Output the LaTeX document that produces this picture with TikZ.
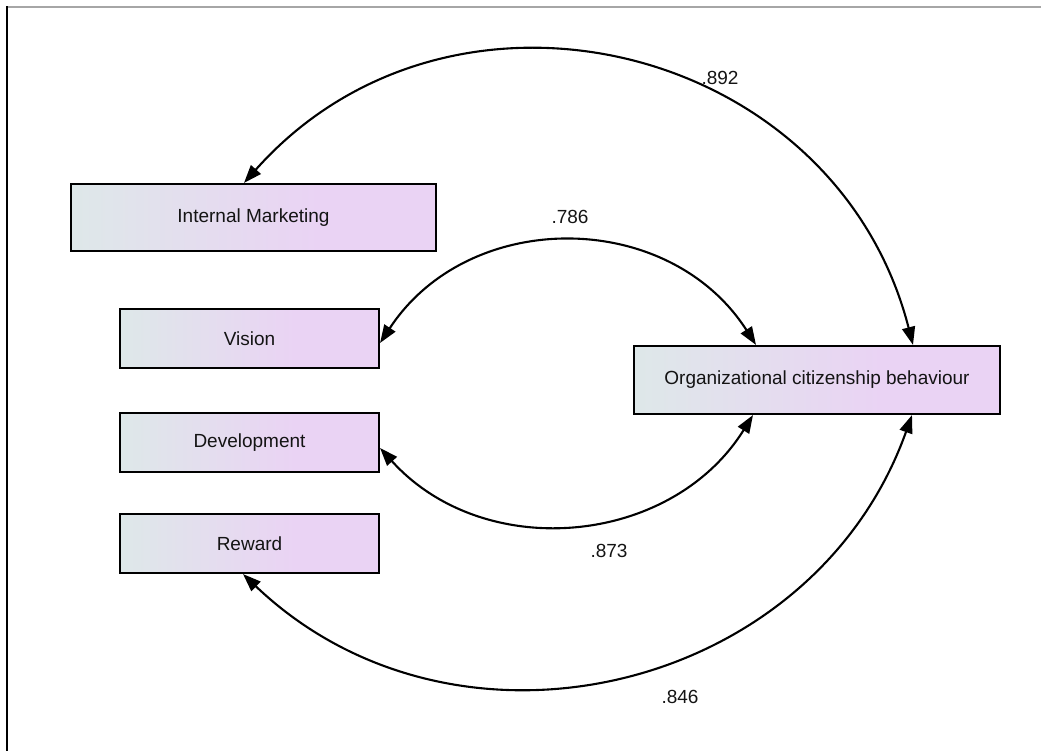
\documentclass[tikz,border=0pt]{standalone}
\usepackage{fontspec}
\setmainfont{Liberation Sans}
\usetikzlibrary{arrows.meta,calc}
\definecolor{boxleft}{RGB}{222,232,233}
\definecolor{boxright}{RGB}{234,211,244}
\definecolor{txt}{RGB}{20,20,20}
\pgfdeclarehorizontalshading{boxshade}{100bp}{color(0bp)=(boxleft); color(25bp)=(boxleft); color(59bp)=(boxright); color(100bp)=(boxright)}
\tikzset{
  var/.style={draw=black, line width=2.1pt, shading=boxshade,
    inner sep=0pt, font=\fontsize{19}{23}\selectfont, text=txt},
  cov/.style={line width=2.1pt, {Triangle[length=18pt,width=13pt]}-{Triangle[length=18pt,width=13pt]}},
  lbl/.style={font=\fontsize{19}{23}\selectfont, text=txt, inner sep=0pt}
}
\begin{document}
\begin{tikzpicture}[x=1pt,y=1pt]
\useasboundingbox (0,0) rectangle (1041,751);
\draw[gray!70, line width=2pt] (7,743.5) -- (1041,743.5);
\draw[black, line width=1.8pt] (7,744.5) -- (7,0);

\node[var, minimum width=365pt, minimum height=67pt] (im) at (253.5,533.5) {Internal Marketing};
\node[var, minimum width=259pt, minimum height=59pt] (vis) at (249.5,412.5) {Vision};
\node[var, minimum width=259pt, minimum height=59pt] (dev) at (249.5,308.5) {Development};
\node[var, minimum width=259pt, minimum height=59pt] (rew) at (249.5,207.5) {Reward};
\node[var, minimum width=366pt, minimum height=68pt] (ocb) at (817,371) {Organizational citizenship behaviour};

\coordinate (imt) at ([xshift=-9.5pt]im.north);
\coordinate (vist) at ([yshift=-4.5pt]vis.east);
\coordinate (devt) at ([yshift=-5.5pt]dev.east);
\coordinate (rewt) at ([xshift=-6.5pt]rew.south);
\coordinate (ocbtl) at ([xshift=-61pt]ocb.north);
\coordinate (ocbtr) at ([xshift=96pt]ocb.north);
\coordinate (ocbbl) at ([xshift=-64pt]ocb.south);
\coordinate (ocbbr) at ([xshift=95pt]ocb.south);

\draw[cov] (imt) to[bend left=62, looseness=1.16] (ocbtr);
\draw[cov] (vist) to[bend left=57, looseness=1.10] (ocbtl);
\draw[cov] (devt) to[bend right=53, looseness=1.06] (ocbbl);
\draw[cov] (rewt) to[bend right=57, looseness=1.10] (ocbbr);

\node[lbl] (l892) at (720,673) {.892};
\node[lbl] (l786) at (570,534) {.786};
\node[lbl] (l873) at (609,200) {.873};
\node[lbl] (l846) at (680,54) {.846};
\end{tikzpicture}
\end{document}
